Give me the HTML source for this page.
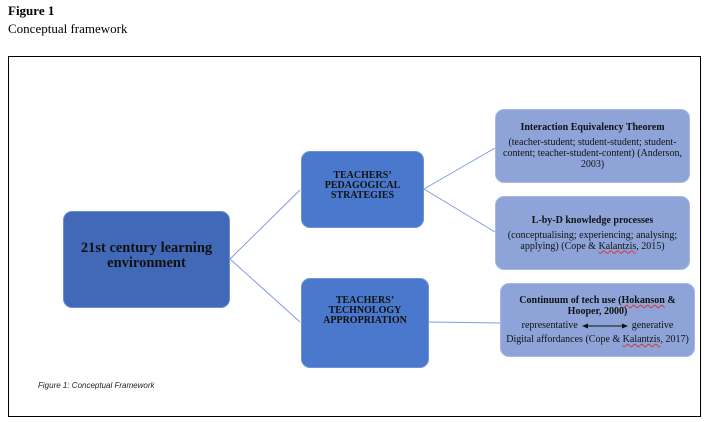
<!DOCTYPE html>
<html><head><style>
body{margin:0;width:706px;height:422px;background:#fff;position:relative;font-family:"Liberation Serif",serif;overflow:hidden}
.a{position:absolute}
.box{position:absolute;border-radius:9px;display:flex;flex-direction:column;justify-content:center;align-items:center;text-align:center;color:#111;box-sizing:border-box}
.mid{background:#4a78cc;font-weight:bold;font-size:10px;line-height:10px;border:1px solid #6d92d6}
.rt{background:#8ea4d8;font-size:10px;line-height:11px;border:1px solid #a8b8e2;padding:0 5px}
.rt b{display:block;margin-bottom:4px}
u{text-decoration:underline wavy #d33;text-decoration-thickness:1px}
</style></head><body>
<div class="a" style="left:8px;top:3px;font-weight:bold;font-size:13px">Figure 1</div>
<div class="a" style="left:8px;top:21px;font-size:13px">Conceptual framework</div>
<div class="a" style="left:8px;top:56px;width:693px;height:361px;border:1px solid #000;box-sizing:border-box"></div>
<svg class="a" style="left:0;top:0" width="706" height="422">
<g stroke="#7e9ddc" stroke-width="1" fill="none">
<line x1="230" y1="259" x2="300" y2="190"/>
<line x1="230" y1="259" x2="300" y2="322"/>
<line x1="424" y1="189" x2="495" y2="148"/>
<line x1="424" y1="189" x2="495" y2="232"/>
<line x1="429" y1="322" x2="500" y2="323"/>
</g>
</svg>
<div class="box" style="left:63px;top:211px;width:167px;height:97px;background:#4169b8;border:1px solid #6d8fd0;font-weight:bold;font-size:14.5px;line-height:15px;padding-bottom:8px">21st century learning<br>environment</div>
<div class="box mid" style="left:301px;top:151px;width:123px;height:77px;padding-bottom:8px">TEACHERS’<br>PEDAGOGICAL<br>STRATEGIES</div>
<div class="box mid" style="left:301px;top:278px;width:128px;height:90px;padding-bottom:24px">TEACHERS’<br>TECHNOLOGY<br>APPROPRIATION</div>
<div class="box rt" style="left:495px;top:109px;width:195px;height:74px"><div><b>Interaction Equivalency Theorem</b>(teacher-student; student-student; student-content; teacher-student-content) (Anderson, 2003)</div></div>
<div class="box rt" style="left:495px;top:196px;width:195px;height:74px"><div><b>L-by-D knowledge processes</b>(conceptualising; experiencing; analysing; applying) (Cope &amp; <u>Kalantzis</u>, 2015)</div></div>
<div class="box rt" style="left:500px;top:283px;width:195px;height:74px;padding:0 3px"><div style="width:100%"><b style="margin-bottom:3px">Continuum of tech use (<u>Hokanson</u> &amp;<br>Hooper, 2000)</b><div style="display:flex;justify-content:center;align-items:center;gap:4px"><span>representative</span><svg width="46" height="8"><line x1="4" y1="4" x2="42" y2="4" stroke="#111"/><polygon points="0,4 6,1.5 6,6.5" fill="#111"/><polygon points="46,4 40,1.5 40,6.5" fill="#111"/></svg><span>generative</span></div><div style="margin-top:3px">Digital affordances (Cope &amp; <u>Kalantzis</u>, 2017)</div></div></div>
<div class="a" style="left:38px;top:381px;font-family:'Liberation Sans',sans-serif;font-style:italic;font-size:8px;color:#222">Figure 1: Conceptual Framework</div>
</body></html>
